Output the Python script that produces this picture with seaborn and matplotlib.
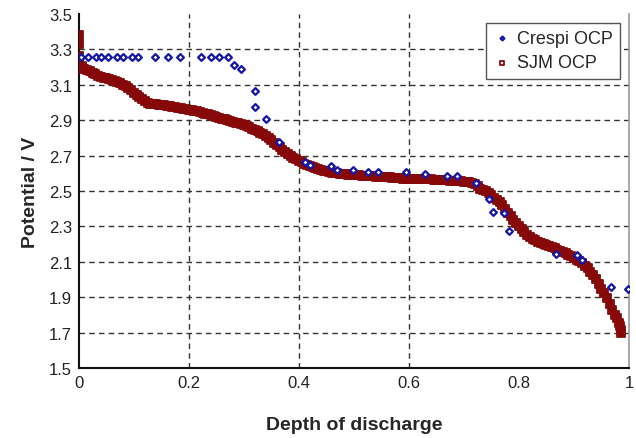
import matplotlib
matplotlib.use("Agg")
import matplotlib.pyplot as plt
import seaborn as sns
import pandas as pd

# Crespi open-circuit potential measurements
crespi_dod = [0.003, 0.017, 0.032, 0.041, 0.053, 0.069, 0.081, 0.096, 0.108, 0.138,
              0.162, 0.184, 0.222, 0.241, 0.255, 0.271, 0.282, 0.295, 0.320, 0.320,
              0.340, 0.364, 0.411, 0.420, 0.458, 0.470, 0.498, 0.526, 0.544, 0.594,
              0.629, 0.670, 0.688, 0.721, 0.746, 0.752, 0.773, 0.782, 0.867, 0.905,
              0.914, 0.968, 0.999]
crespi_v = [3.255, 3.255, 3.255, 3.255, 3.255, 3.255, 3.255, 3.255, 3.255, 3.255,
            3.255, 3.255, 3.255, 3.255, 3.255, 3.255, 3.212, 3.190, 3.063, 2.973,
            2.907, 2.775, 2.666, 2.647, 2.643, 2.620, 2.620, 2.606, 2.606, 2.606,
            2.596, 2.583, 2.583, 2.545, 2.455, 2.380, 2.376, 2.272, 2.144, 2.140,
            2.112, 1.959, 1.944]

# SJM open-circuit potential curve
sjm_dod = [0.000, 0.000, 0.000, 0.000,
           0.005, 0.010, 0.015, 0.020, 0.025, 0.030, 0.035, 0.040, 0.045, 0.050,
           0.055, 0.060, 0.065, 0.070, 0.075, 0.080, 0.085, 0.090, 0.095, 0.100,
           0.105, 0.110, 0.115, 0.120, 0.125, 0.130, 0.135, 0.140, 0.145, 0.150,
           0.155, 0.160, 0.165, 0.170, 0.175, 0.180, 0.185, 0.190, 0.195, 0.200,
           0.205, 0.210, 0.215, 0.220, 0.225, 0.230, 0.235, 0.240, 0.245, 0.250,
           0.255, 0.260, 0.265, 0.270, 0.275, 0.280, 0.285, 0.290, 0.295, 0.300,
           0.305, 0.310, 0.315, 0.320, 0.325, 0.330, 0.335, 0.340, 0.345, 0.350,
           0.355, 0.360, 0.365, 0.370, 0.375, 0.380, 0.385, 0.390, 0.395, 0.400,
           0.405, 0.410, 0.415, 0.420, 0.425, 0.430, 0.435, 0.440, 0.445, 0.450,
           0.455, 0.460, 0.465, 0.470, 0.475, 0.480, 0.485, 0.490, 0.495, 0.500,
           0.505, 0.510, 0.515, 0.520, 0.525, 0.530, 0.535, 0.540, 0.545, 0.550,
           0.555, 0.560, 0.565, 0.570, 0.575, 0.580, 0.585, 0.590, 0.595, 0.600,
           0.605, 0.610, 0.615, 0.620, 0.625, 0.630, 0.635, 0.640, 0.645, 0.650,
           0.655, 0.660, 0.665, 0.670, 0.675, 0.680, 0.685, 0.690, 0.695, 0.700,
           0.705, 0.710, 0.715, 0.720, 0.725, 0.730, 0.735, 0.740, 0.745, 0.750,
           0.755, 0.760, 0.765, 0.770, 0.775, 0.780, 0.785, 0.790, 0.795, 0.800,
           0.805, 0.810, 0.815, 0.820, 0.825, 0.830, 0.835, 0.840, 0.845, 0.850,
           0.855, 0.860, 0.865, 0.870, 0.875, 0.880, 0.885, 0.890, 0.895, 0.900,
           0.905, 0.910, 0.915, 0.920, 0.925, 0.930, 0.935, 0.940, 0.945, 0.950,
           0.955, 0.960, 0.965, 0.970, 0.975, 0.978, 0.981, 0.983, 0.985, 0.986]
sjm_v = [3.380, 3.330, 3.260, 3.230,
         3.205, 3.190, 3.182, 3.175, 3.167, 3.158, 3.150, 3.145, 3.140, 3.136,
         3.131, 3.126, 3.120, 3.115, 3.108, 3.100, 3.091, 3.082, 3.068, 3.053,
         3.041, 3.029, 3.018, 3.008, 2.998, 2.991, 2.990, 2.989, 2.988, 2.986,
         2.984, 2.981, 2.979, 2.976, 2.973, 2.970, 2.967, 2.965, 2.962, 2.960,
         2.957, 2.953, 2.949, 2.945, 2.941, 2.937, 2.932, 2.928, 2.923, 2.918,
         2.913, 2.909, 2.904, 2.900, 2.895, 2.891, 2.886, 2.882, 2.877, 2.871,
         2.865, 2.859, 2.852, 2.845, 2.838, 2.829, 2.819, 2.809, 2.798, 2.786,
         2.773, 2.760, 2.747, 2.734, 2.721, 2.709, 2.697, 2.687, 2.678, 2.669,
         2.661, 2.653, 2.646, 2.640, 2.635, 2.628, 2.622, 2.617, 2.613, 2.610,
         2.607, 2.604, 2.602, 2.600, 2.598, 2.596, 2.594, 2.592, 2.591, 2.590,
         2.589, 2.588, 2.587, 2.585, 2.584, 2.583, 2.582, 2.581, 2.580, 2.579,
         2.578, 2.577, 2.576, 2.575, 2.574, 2.573, 2.572, 2.570, 2.569, 2.568,
         2.568, 2.567, 2.567, 2.566, 2.566, 2.566, 2.565, 2.565, 2.564, 2.564,
         2.563, 2.562, 2.561, 2.560, 2.559, 2.558, 2.557, 2.556, 2.554, 2.552,
         2.550, 2.548, 2.546, 2.540, 2.528, 2.512, 2.505, 2.497, 2.488, 2.476,
         2.463, 2.450, 2.436, 2.418, 2.399, 2.378, 2.356, 2.338, 2.320, 2.302,
         2.286, 2.270, 2.253, 2.238, 2.229, 2.221, 2.214, 2.208, 2.202, 2.195,
         2.188, 2.181, 2.175, 2.168, 2.161, 2.154, 2.147, 2.140, 2.132, 2.123,
         2.112, 2.102, 2.092, 2.078, 2.062, 2.044, 2.024, 2.000, 1.975, 1.948,
         1.921, 1.893, 1.862, 1.830, 1.800, 1.780, 1.755, 1.735, 1.715, 1.700]

x_ticks = [0, 0.2, 0.4, 0.6, 0.8, 1.0]
x_tick_labels = ["0", "0.2", "0.4", "0.6", "0.8", "1"]
y_ticks = [1.5, 1.7, 1.9, 2.1, 2.3, 2.5, 2.7, 2.9, 3.1, 3.3, 3.5]
y_tick_labels = ["1.5", "1.7", "1.9", "2.1", "2.3", "2.5", "2.7", "2.9", "3.1", "3.3", "3.5"]

sns.set_theme(style="white")
plt.rcParams["font.family"] = ["Liberation Sans", "DejaVu Sans"]

crespi = pd.DataFrame({"dod": crespi_dod, "v": crespi_v})
sjm = pd.DataFrame({"dod": sjm_dod, "v": sjm_v})

fig = plt.figure(figsize=(6.36, 4.39), dpi=100)
ax = fig.add_axes([0.124, 0.1595, 0.865, 0.8065])

red = "#860808"
blue = "#1414a8"

sns.scatterplot(data=sjm, x="dod", y="v", ax=ax, marker="s", s=26,
                facecolor=red, edgecolor=red, linewidth=1.3,
                label="SJM OCP", zorder=3)
sns.scatterplot(data=crespi, x="dod", y="v", ax=ax, marker="D", s=12,
                facecolor="white", edgecolor=blue, linewidth=1.6,
                label="Crespi OCP", zorder=4)

ax.set_xlim(0, 1)
ax.set_ylim(1.5, 3.5)
ax.set_xticks(x_ticks)
ax.set_xticklabels(x_tick_labels)
ax.set_yticks(y_ticks)
ax.set_yticklabels(y_tick_labels)
ax.tick_params(axis="both", labelsize=12, colors="#222222", direction="in",
               length=4, width=1, pad=5)
ax.tick_params(axis="y", length=0)

ax.set_xlabel("Depth of discharge", fontsize=14, fontweight="bold", labelpad=19)
ax.set_ylabel("Potential / V", fontsize=14, fontweight="bold", labelpad=7)

# dashed grid on interior ticks only
ax.grid(True, linestyle=(0, (4, 3)), color="#333333", linewidth=1.0)
xg = ax.xaxis.get_gridlines()
for i in (0, 4, 5):
    xg[i].set_visible(False)
yg = ax.yaxis.get_gridlines()
yg[0].set_visible(False)
yg[-1].set_visible(False)
ax.set_axisbelow(True)

for side in ("left", "bottom"):
    ax.spines[side].set_color("#111111")
    ax.spines[side].set_linewidth(1.5)
ax.spines["right"].set_color("#9a9a9a")
ax.spines["right"].set_linewidth(1.2)
ax.spines["top"].set_visible(False)

handles, labels = ax.get_legend_handles_labels()
order = [labels.index("Crespi OCP"), labels.index("SJM OCP")]
leg = ax.legend([handles[i] for i in order], [labels[i] for i in order],
                loc="upper right", fontsize=13, frameon=True, fancybox=False,
                edgecolor="#555555", framealpha=1, markerscale=0.55,
                handletextpad=0.3, borderpad=0.4, labelspacing=0.4,
                handlelength=1.0, borderaxespad=0.5)
leg.get_frame().set_linewidth(1.0)
# legend square drawn hollow
leg.legend_handles[1].set_facecolor("white")

fig.savefig("out.png", dpi=100)
